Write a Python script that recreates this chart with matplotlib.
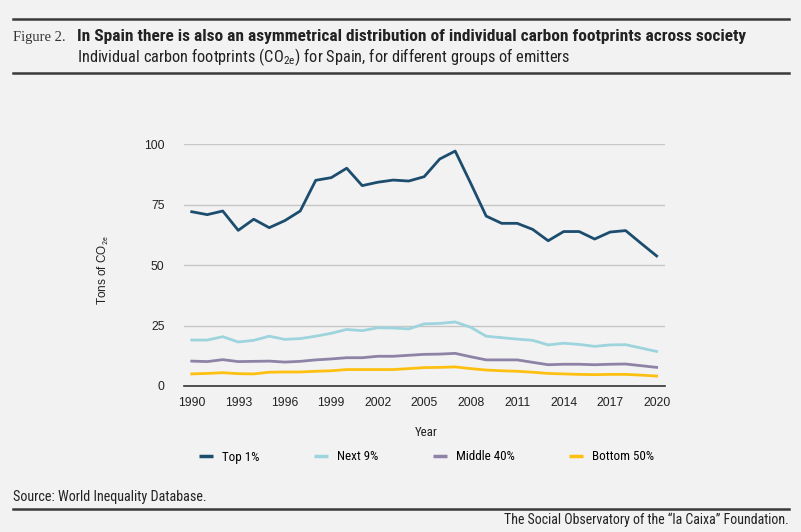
import matplotlib.pyplot as plt
from matplotlib.lines import Line2D

# -----------------------------
# Data
# -----------------------------
years = list(range(1990, 2021))

top_1 = [72.1, 70.9, 72.4, 64.4, 69.0, 65.5, 68.4, 72.4, 85.1, 86.2,
         90.1, 82.9, 84.3, 85.2, 84.8, 86.6, 93.9, 97.2, 83.9, 70.3,
         67.3, 67.3, 64.8, 60.1, 63.9, 63.9, 60.8, 63.7, 64.3, 59.0, 53.8]
next_9 = [19.0, 19.0, 20.4, 18.2, 18.9, 20.6, 19.3, 19.6, 20.6, 21.8,
          23.4, 22.9, 24.1, 24.0, 23.6, 25.7, 25.9, 26.5, 24.3, 20.6,
          20.0, 19.4, 18.9, 17.0, 17.7, 17.2, 16.4, 17.0, 17.1, 15.7, 14.3]
middle_40 = [10.3, 10.1, 10.9, 10.1, 10.2, 10.3, 9.9, 10.2, 10.8, 11.2,
             11.7, 11.7, 12.3, 12.3, 12.7, 13.1, 13.2, 13.5, 12.1, 10.8,
             10.8, 10.8, 9.8, 8.8, 9.0, 9.0, 8.8, 9.0, 9.1, 8.4, 7.7]
bottom_50 = [5.0, 5.2, 5.5, 5.1, 5.0, 5.7, 5.8, 5.8, 6.1, 6.3,
             6.8, 6.8, 6.8, 6.8, 7.2, 7.6, 7.7, 7.9, 7.2, 6.6,
             6.3, 6.1, 5.7, 5.2, 5.0, 4.8, 4.7, 4.8, 4.8, 4.5, 4.1]

series_names = ["Top 1%", "Next 9%", "Middle 40%", "Bottom 50%"]
series_colors = ["#1c4d6e", "#9dd4dd", "#8d83a6", "#fdc010"]
x_ticks = list(range(1990, 2021, 3))
y_ticks = [0, 25, 50, 75, 100]

bg = "#f2f2f2"
txt = "#222222"
narrow = ["Roboto Condensed", "Roboto", "DejaVu Sans"]
plain = ["Liberation Sans", "DejaVu Sans"]

plt.rcParams["mathtext.fontset"] = "custom"
plt.rcParams["mathtext.rm"] = "Roboto Condensed"

W, H = 801, 532


def fy(y):
    return 1 - y / H


def fit_width(t, target_px):
    # shrink/grow a text so it spans the same width as in the reference
    r = fig.canvas.get_renderer()
    w = t.get_window_extent(r).width
    t.set_fontsize(t.get_fontsize() * target_px / w)


# -----------------------------
# Figure
# -----------------------------
fig = plt.figure(figsize=(W / 100, H / 100), dpi=100, facecolor=bg)
ax = fig.add_axes([184 / W, fy(386), 481 / W, 241.7 / H], facecolor=bg)

for vals, col in zip([top_1, next_9, middle_40, bottom_50], series_colors):
    ax.plot(years, vals, color=col, lw=2, zorder=3)

ax.set_xlim(1989.5, 2020.54)
ax.set_ylim(0, 100)
ax.set_xticks(x_ticks)
ax.set_yticks(y_ticks)
ax.tick_params(length=0, labelsize=8.7, colors=txt)
ax.tick_params(axis="x", pad=8)
ax.tick_params(axis="y", pad=14)
for lab in ax.get_xticklabels() + ax.get_yticklabels():
    lab.set_family(plain)
ax.grid(axis="y", color="#c6c6c6", lw=1)
for s in ["top", "right", "left"]:
    ax.spines[s].set_visible(False)
ax.spines["bottom"].set_color("#333333")
ax.spines["bottom"].set_linewidth(1.2)
ax.set_axisbelow(True)

fig.text(426 / W, fy(432), "Year", ha="center", va="center", fontsize=9.3,
         family=narrow, color=txt)
fig.text(103 / W, fy(270), "Tons of CO$_{\\mathrm{2e}}$", rotation=90, ha="center",
         va="center", fontsize=8.5, family=plain, color=txt)

handles = [Line2D([], [], color=c, lw=2.5, solid_capstyle="butt") for c in series_colors]
fig.legend(handles, series_names, loc="center", bbox_to_anchor=(426.5 / W, fy(457)),
           ncol=4, frameon=False, handlelength=1.08, handletextpad=0.7,
           columnspacing=4.15, prop={"family": narrow, "size": 9.4})

# -----------------------------
# Header and footer
# -----------------------------
for yy in [19, 73, 509]:
    fig.add_artist(Line2D([13 / W, 789 / W], [fy(yy)] * 2, color="#3a3a3a", lw=1.8))

fig.text(13 / W, fy(37), "Figure 2.", fontsize=10.5, family="Liberation Serif",
         color="#333333", va="center")
title = fig.text(77 / W, fy(37),
                 "In Spain there is also an asymmetrical distribution of individual carbon footprints across society",
                 fontsize=10.5, family=narrow, weight="bold", color=txt, va="center")
subtitle = fig.text(77 / W, fy(57),
                    "Individual carbon footprints (CO$_{\\mathrm{2e}}$) for Spain, for different groups of emitters",
                    fontsize=10.5, family=narrow, color=txt, va="center")
source = fig.text(13 / W, fy(497), "Source: World Inequality Database.", fontsize=9,
                  family=narrow, color=txt, va="center")
footer = fig.text(789 / W, fy(520), "The Social Observatory of the \u201cla Caixa\u201d Foundation.",
                  fontsize=9, family=narrow, color=txt, va="center", ha="right")

fit_width(title, 669)
fit_width(subtitle, 494)
fit_width(source, 195)
fit_width(footer, 287)

fig.savefig("out.png", dpi=100, facecolor=bg)
